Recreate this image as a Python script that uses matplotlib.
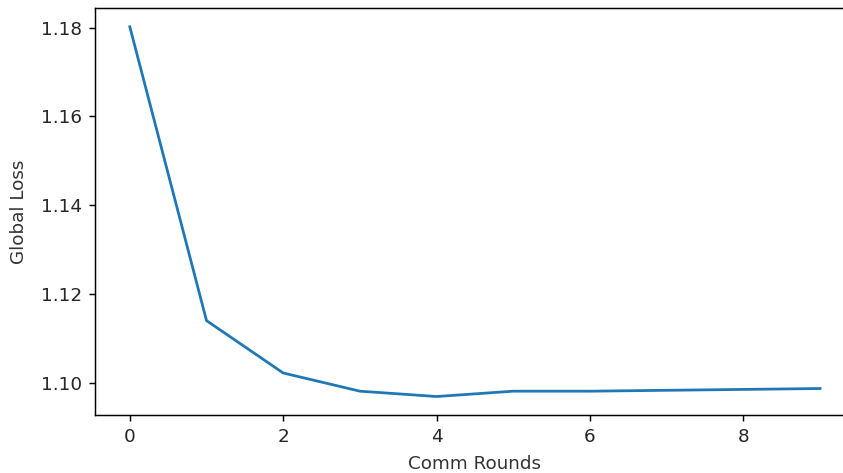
import matplotlib
matplotlib.use("Agg")
import matplotlib.pyplot as plt

comm_rounds = [0, 1, 2, 3, 4, 5, 6, 7, 8, 9]
global_loss = [1.1802, 1.1140, 1.1022, 1.0981, 1.0969, 1.0981, 1.0981, 1.0983, 1.0985, 1.0987]

# screenshot looks like a ~132 dpi render, right edge cropped off
fig = plt.figure(figsize=(843 / 132, 473 / 132), dpi=132)
ax = fig.add_axes([95.3 / 843, 1 - 415 / 473, 759.3 / 843, (415 - 8.3) / 473])
ax.plot(comm_rounds, global_loss, color="#1f77b4")
ax.set_xlabel("Comm Rounds", color="#333333", labelpad=5)
ax.set_ylabel("Global Loss", color="#333333", labelpad=7.5)
ax.tick_params(labelcolor="#262626")

fig.savefig("out.png", dpi=132)
